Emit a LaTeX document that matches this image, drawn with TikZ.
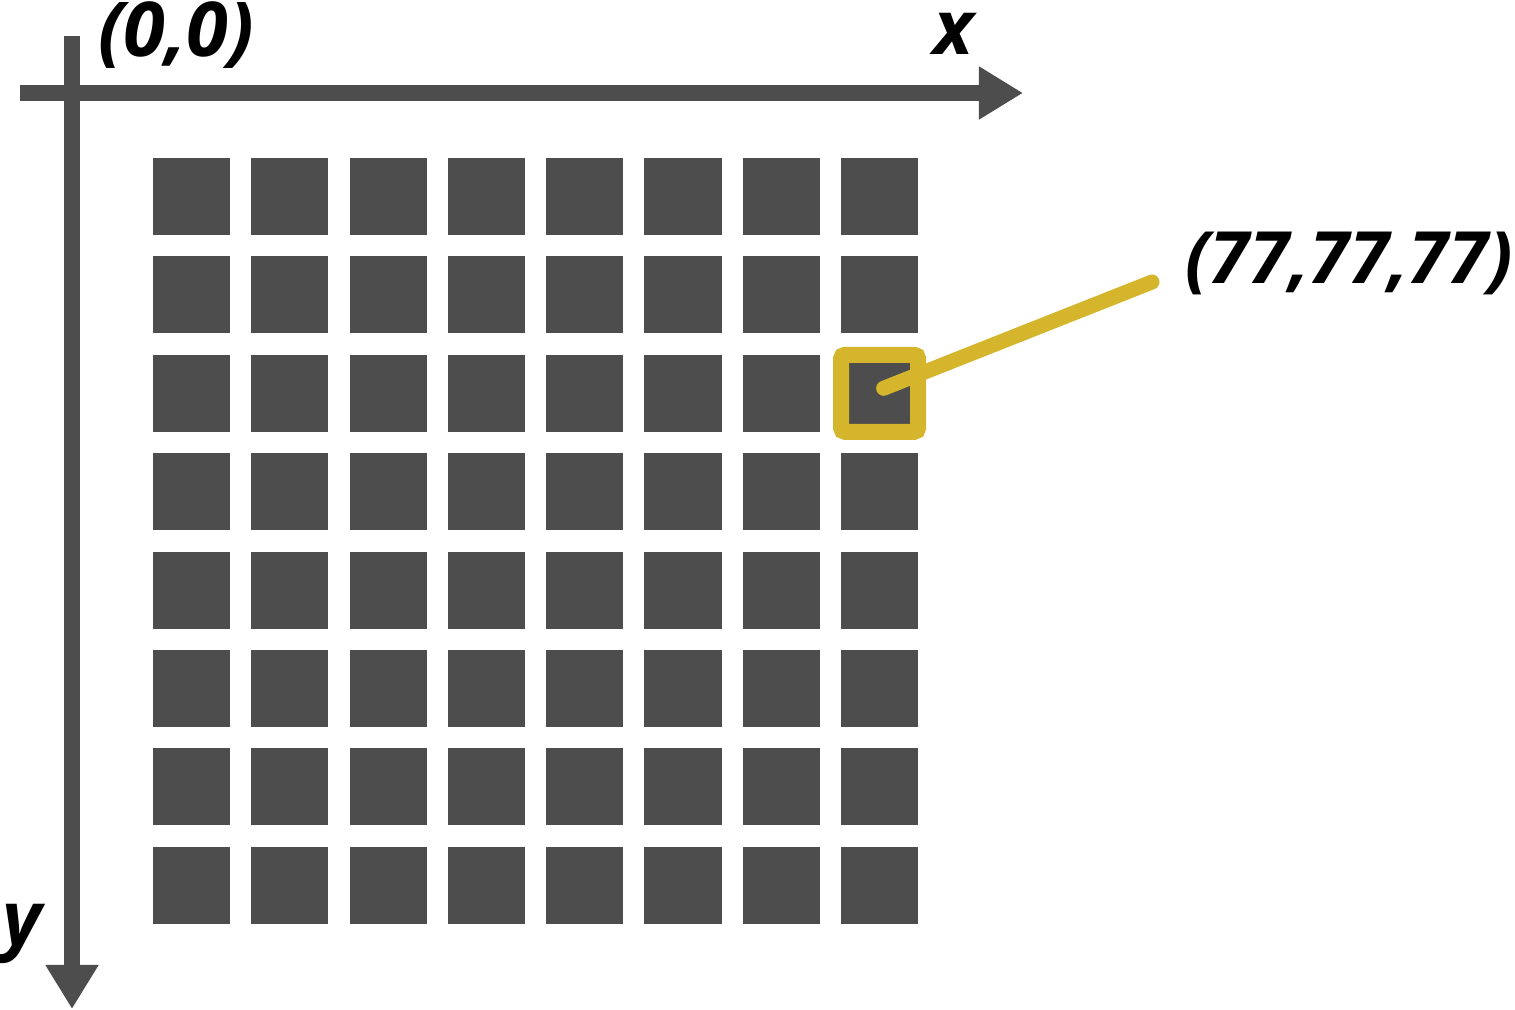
\documentclass[tikz,border=0pt]{standalone}
\usepackage{fontspec}
\setmainfont{Open Sans}
\usepackage{tikz}
\usetikzlibrary{arrows.meta}
\definecolor{cellgray}{HTML}{4D4D4D}
\definecolor{hiyellow}{HTML}{D4B52B}

\tikzset{
  cell/.style={fill=cellgray,inner sep=0,minimum size=0.77cm},
  axis/.style={draw=cellgray,line width=0.16cm,-{Triangle[length=0.44cm,width=0.5cm]}},
  hilite/.style={draw=hiyellow,line width=0.16cm,rounded corners=0.04cm,inner sep=0,minimum size=0.77cm},
  lead/.style={draw=hiyellow,line width=0.15cm,line cap=round},
  lbl/.style={text=black,inner sep=0,font=\fontsize{21.5}{25}\selectfont\bfseries\itshape}
}

\begin{document}
\begin{tikzpicture}[x=0.01cm,y=-0.01cm]
\useasboundingbox (0,0) rectangle (1515,1010);
% axes
\coordinate (xstart) at (20,93);
\coordinate (xend) at (1023,93);
\coordinate (ystart) at (72,36);
\coordinate (yend) at (72,1009);
\draw[axis] (xstart)--(xend);
\draw[axis] (ystart)--(yend);
\node at (176,35) [lbl] (origin) {(0,0)};
\node at (954,34) [lbl] (xlbl) {x};
\node at (22,934) [lbl] (ylbl) {y};
% pixel grid
\foreach \i in {1,...,8}{
  \foreach \j in {1,...,8}{
    \node at ({191.5+98.3*(\i-1)},{196.5+98.4*(\j-1)}) [cell] (c-\i-\j) {};
  }
}
% picked pixel
\node at (c-8-3) [hilite] (pick) {};
\coordinate (leadend) at (1152,282);
\draw[lead] ([xshift=0.04cm,yshift=0.05cm]pick.center)--(leadend);
\node at (1349,263) [lbl,font=\fontsize{20.5}{24}\selectfont\bfseries\itshape] (value) {(77,77,77)};
\end{tikzpicture}
\end{document}
